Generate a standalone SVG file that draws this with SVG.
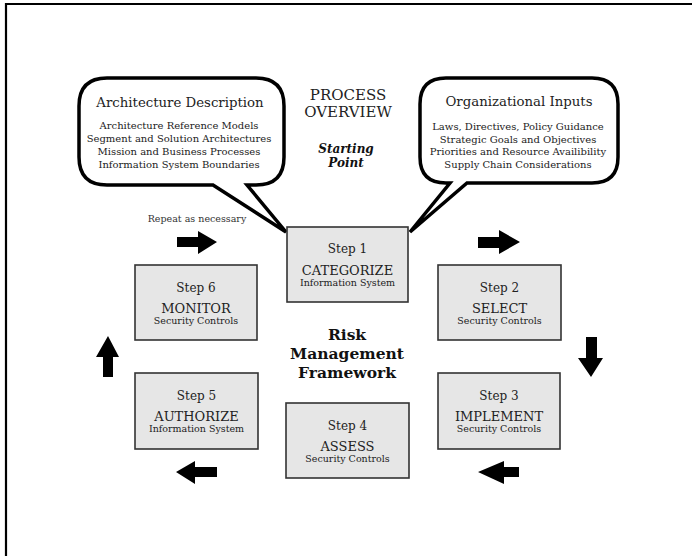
<svg xmlns="http://www.w3.org/2000/svg" width="692" height="556" viewBox="0 0 692 556">
<defs>
<style>
.serif{font-family:"DejaVu Serif","Liberation Serif",serif;fill:#222;text-anchor:middle}
.bub{fill:#fff;stroke:#000;stroke-width:3.5;stroke-linejoin:miter}
.box{fill:#e6e6e6;stroke:#333;stroke-width:1.6}
.st{font-size:12px}
.tt{font-size:13px}
.sb{font-size:9.5px}
.bt{font-size:13.3px}
.bl{font-size:10px}
.arr{fill:#000}
</style>
</defs>
<rect width="692" height="556" fill="#fff"/>
<path d="M6,556 V4 H692" fill="none" stroke="#000" stroke-width="2.2"/>

<g id="bubble-architecture">
<path class="bub" d="M107,78 H256 Q284,78 284,106 V157 Q284,185 256,185 H247 L286,232 L213,185 H107 Q79,185 79,157 V106 Q79,78 107,78 Z"/>
<text class="serif bt" x="180" y="107">Architecture Description</text>
<text class="serif bl" x="179" y="129">Architecture Reference Models</text>
<text class="serif bl" x="179" y="142">Segment and Solution Architectures</text>
<text class="serif bl" x="179" y="155">Mission and Business Processes</text>
<text class="serif bl" x="179" y="168">Information System Boundaries</text>
</g>

<g id="bubble-organizational">
<path class="bub" d="M446,78 H592 Q618,78 618,104 V157 Q618,183 592,183 H467 L410,232 L450,183 H446 Q420,183 420,157 V104 Q420,78 446,78 Z"/>
<text class="serif bt" x="519" y="106">Organizational Inputs</text>
<text class="serif bl" x="518" y="130">Laws, Directives, Policy Guidance</text>
<text class="serif bl" x="518" y="143">Strategic Goals and Objectives</text>
<text class="serif bl" x="518" y="155">Priorities and Resource Availibility</text>
<text class="serif bl" x="518" y="168">Supply Chain Considerations</text>
</g>

<g id="process-overview">
<text class="serif" font-size="15" x="348" y="100">PROCESS</text>
<text class="serif" font-size="15" x="348" y="117">OVERVIEW</text>
<text class="serif" font-size="12" font-weight="bold" font-style="italic" x="346" y="153" style="fill:#111">Starting</text>
<text class="serif" font-size="12" font-weight="bold" font-style="italic" x="346" y="167" style="fill:#111">Point</text>
</g>

<g id="rmf-title">
<text class="serif" font-size="15.5" font-weight="bold" x="347" y="340" style="fill:#111">Risk</text>
<text class="serif" font-size="15.5" font-weight="bold" x="347" y="359" style="fill:#111">Management</text>
<text class="serif" font-size="15.5" font-weight="bold" x="347" y="378" style="fill:#111">Framework</text>
</g>

<g id="repeat-label">
<text class="serif" font-size="9.5" x="197" y="222" style="fill:#333">Repeat as necessary</text>
</g>

<g id="step1">
<rect class="box" x="287" y="227" width="121" height="75"/>
<text class="serif st" x="347.5" y="253">Step 1</text>
<text class="serif tt" x="347.5" y="275">CATEGORIZE</text>
<text class="serif sb" x="347.5" y="286">Information System</text>
</g>
<g id="step2">
<rect class="box" x="438" y="265" width="123" height="75"/>
<text class="serif st" x="499.5" y="292">Step 2</text>
<text class="serif tt" x="499.5" y="313">SELECT</text>
<text class="serif sb" x="499.5" y="324">Security Controls</text>
</g>
<g id="step3">
<rect class="box" x="438" y="373" width="122" height="76"/>
<text class="serif st" x="499" y="400">Step 3</text>
<text class="serif tt" x="499" y="421">IMPLEMENT</text>
<text class="serif sb" x="499" y="432">Security Controls</text>
</g>
<g id="step4">
<rect class="box" x="286" y="403" width="123" height="75"/>
<text class="serif st" x="347.5" y="430">Step 4</text>
<text class="serif tt" x="347.5" y="451">ASSESS</text>
<text class="serif sb" x="347.5" y="462">Security Controls</text>
</g>
<g id="step5">
<rect class="box" x="135" y="373" width="123" height="76"/>
<text class="serif st" x="196.5" y="400">Step 5</text>
<text class="serif tt" x="196.5" y="421">AUTHORIZE</text>
<text class="serif sb" x="196.5" y="432">Information System</text>
</g>
<g id="step6">
<rect class="box" x="135" y="265" width="122" height="75"/>
<text class="serif st" x="196" y="292">Step 6</text>
<text class="serif tt" x="196" y="313">MONITOR</text>
<text class="serif sb" x="196" y="324">Security Controls</text>
</g>

<g id="connectors">
<polygon class="arr" points="177,237 198,237 198,231 217,242 198,254 198,247 177,247"/>
<polygon class="arr" points="478,237 499,237 499,230 520,242 499,254 499,248 478,248"/>
<polygon class="arr" points="586,337 597,337 597,358 603,358 591,377 578,358 586,358"/>
<polygon class="arr" points="519,467 504,467 504,461 478,472 504,484 504,477 519,477"/>
<polygon class="arr" points="217,467 195,467 195,461 176,472 195,484 195,477 217,477"/>
<polygon class="arr" points="103,377 103,357 96,357 108,336 119,357 113,357 113,377"/>
</g>
</svg>
